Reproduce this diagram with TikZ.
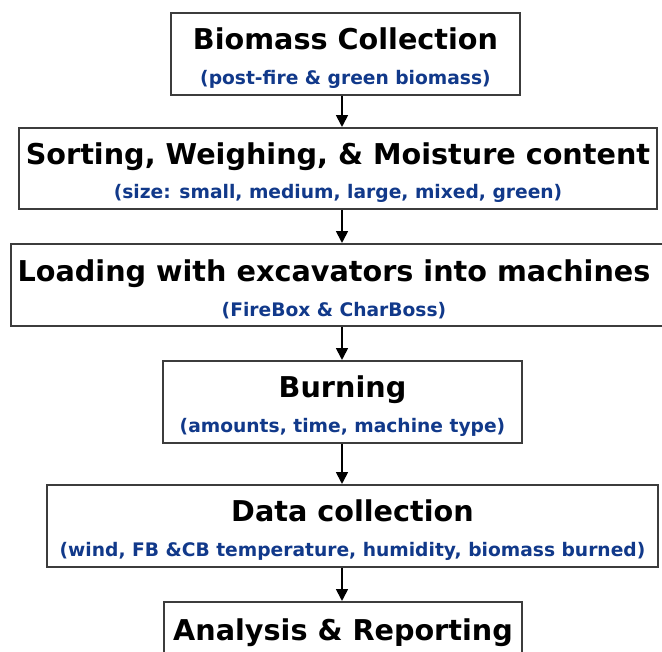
\documentclass[tikz,border=0pt]{standalone}
\usepackage{fontspec}
\usetikzlibrary{arrows.meta}
\newfontfamily\flowfont{DejaVu Sans}
\definecolor{subblue}{RGB}{17,57,138}
\definecolor{edgegray}{RGB}{60,60,60}

\begin{document}
\begin{tikzpicture}[
  x=.75pt,
  y=-.75pt,
  stage/.style={
    draw=edgegray,
    line width=1.2pt,
    fill=white,
    align=center,
    inner sep=0pt,
    minimum height=61.5pt,
    font=\flowfont\bfseries\fontsize{21.5}{26}\selectfont
  },
  flow/.style={
    line width=2.2pt,
    -{Triangle[length=9pt,width=8.5pt]}
  },
]
\clip (0,0) rectangle (662,652);
\fill[white] (0,0) rectangle (662,652);
\coordinate (axis) at (342,0);
\newcommand{\stagetext}[2]{\rule{0pt}{22.6pt}#1\\{\fontsize{14}{26}\selectfont\color{subblue}#2}}
\node[stage, minimum width=261.75pt] (collect) at (345.5,54)
  {\stagetext{Biomass Collection}{(post-fire \& green biomass)}};
\node[stage, minimum width=478.5pt, minimum height=60.75pt] (sort) at (338,168.5)
  {\stagetext{Sorting, Weighing, \& Moisture content}{(size: small, medium, large, mixed, green)}};
\node[stage, minimum width=528pt] (load) at (363,285)
  {\stagetext{\hspace*{-43.5pt}Loading with excavators into machines}{\hspace*{-43.5pt}(FireBox \& CharBoss)}};
\node[stage, minimum width=269.25pt] (burn) at (342.5,402)
  {\stagetext{Burning}{(amounts, time, machine type)}};
\node[stage, minimum width=458.25pt] (data) at (352.5,526)
  {\stagetext{Data collection}{(wind, FB \&CB temperature, humidity, biomass burned)}};
\node[stage, minimum width=268.5pt] (report) at (343,643)
  {\stagetext{Analysis \& Reporting}{\mbox{}}};
\draw[flow] (collect.south -| axis) -- (sort.north -| axis);
\draw[flow] (sort.south -| axis) -- (load.north -| axis);
\draw[flow] (load.south -| axis) -- (burn.north -| axis);
\draw[flow] (burn.south -| axis) -- (data.north -| axis);
\draw[flow] (data.south -| axis) -- (report.north -| axis);
\end{tikzpicture}
\end{document}
